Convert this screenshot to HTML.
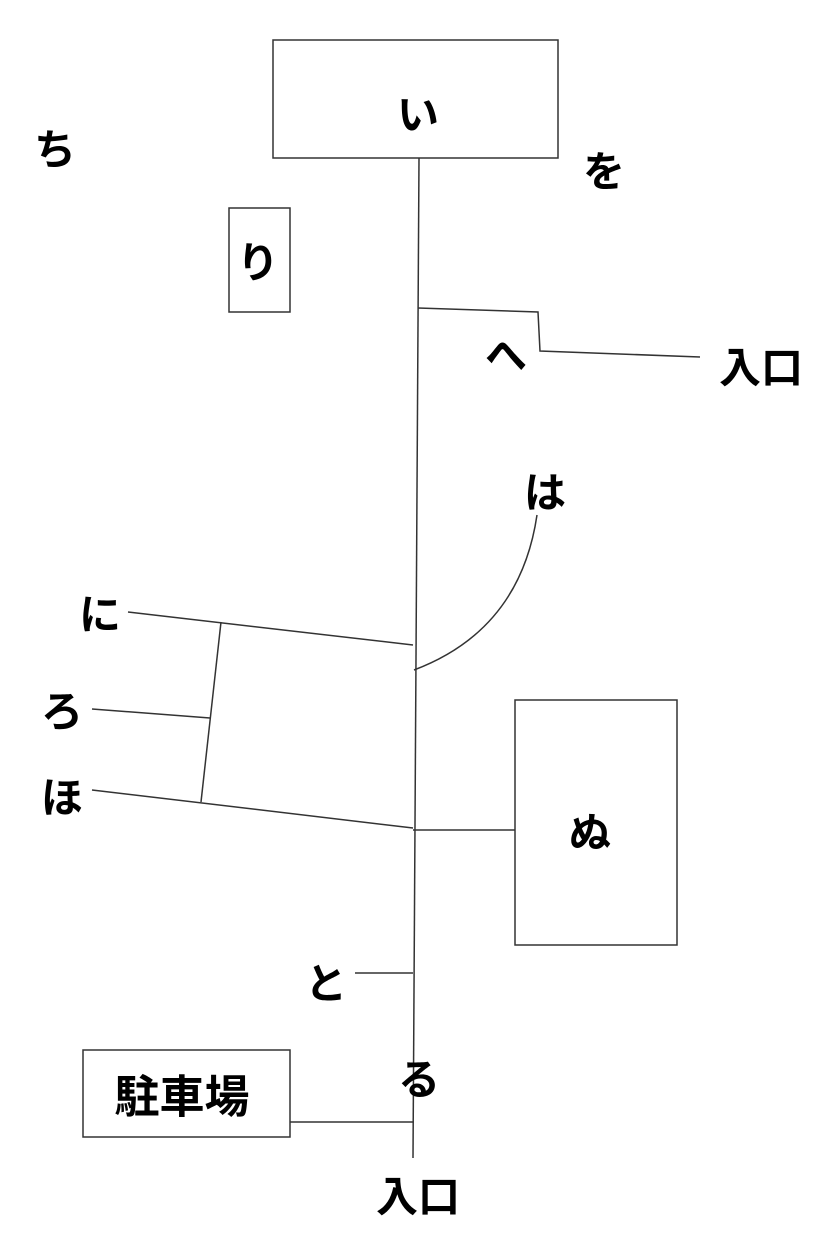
<!DOCTYPE html>
<html><head><meta charset="utf-8"><style>
html,body{margin:0;padding:0;background:#fff;}
svg{display:block;}
text{font-family:"Liberation Sans","Noto Sans CJK JP",sans-serif;font-weight:bold;font-size:42px;fill:#000;text-anchor:middle;dominant-baseline:central;}
</style></head><body>
<svg width="826" height="1240" viewBox="0 0 826 1240" xmlns="http://www.w3.org/2000/svg">
<g fill="none" stroke="#333" stroke-width="1.5">
<rect x="273" y="40" width="285" height="118"/>
<rect x="229" y="208" width="61" height="104"/>
<rect x="515" y="700" width="162" height="245"/>
<rect x="83" y="1050" width="207" height="87"/>
<line x1="419" y1="158" x2="413" y2="1158"/>
<polyline points="418,308 538,312 540,351 700,357"/>
<path d="M537,515 Q520,630 414,670"/>
<line x1="128" y1="612" x2="413" y2="645"/>
<line x1="221" y1="622" x2="201" y2="802"/>
<line x1="92" y1="709" x2="210" y2="718"/>
<line x1="92" y1="790" x2="413" y2="828"/>
<line x1="413" y1="830" x2="515" y2="830"/>
<line x1="355" y1="973" x2="413" y2="973"/>
<line x1="290" y1="1122" x2="413" y2="1122"/>
</g>
<text x="418" y="115">い</text>
<text x="55" y="150">ち</text>
<text x="604" y="172">を</text>
<text x="258" y="263">り</text>
<text x="506" y="356">へ</text>
<text x="761" y="368">入口</text>
<text x="545" y="493">は</text>
<text x="100" y="615">に</text>
<text x="62" y="712">ろ</text>
<text x="62" y="798">ほ</text>
<text x="590" y="833">ぬ</text>
<text x="326" y="984">と</text>
<text x="419" y="1080">る</text>
<text x="182" y="1097" style="font-size:45px">駐車場</text>
<text x="418" y="1197">入口</text>
</svg>
</body></html>
